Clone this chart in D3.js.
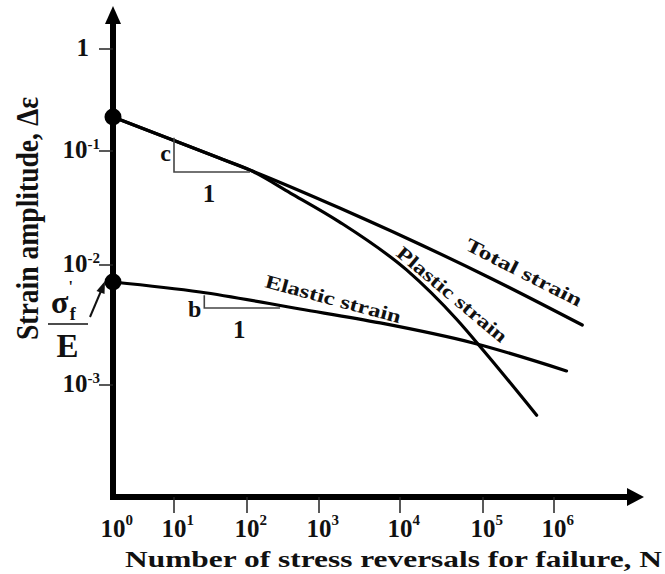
<!DOCTYPE html>
<html><head><meta charset="utf-8">
<script src="https://cdn.jsdelivr.net/npm/d3@7"></script>
<style>html,body{margin:0;padding:0;background:#fff;} svg{display:block;}</style>
</head><body>
<svg id="chart" width="665" height="574"></svg>
<script>
// ---- data ----
const xTickValues = [1, 10, 100, 1e3, 1e4, 1e5, 1e6];
const xTickExps = ["0", "1", "2", "3", "4", "5", "6"];
const yTickValues = [1, 0.1, 0.01, 0.001];
const yTickBases = ["1", "10", "10", "10"];
const yTickExps = ["", "-1", "-2", "-3"];

const totalN = [1, 10, 40, 110, 1800, 1.26e5, 2.5e6];
const totalStrain = [0.215, 0.1265, 0.0875, 0.068, 0.0316, 0.0078, 0.00316];
const plasticN = [1, 10, 40, 110, 400, 1800, 1.2e4, 4.9e4, 1e5, 5.7e5];
const plasticStrain = [0.215, 0.1265, 0.0875, 0.068, 0.0428, 0.0238, 0.0091, 0.00348, 0.00196, 0.00056];
const elasticN = [1, 22.7, 545, 5700, 7.6e4, 1.5e6];
const elasticStrain = [0.00722, 0.00596, 0.0043, 0.00329, 0.00224, 0.00131];

const slopeTriC = {n0: 10, n1: 110, eTop: 0.135, eBot: 0.0655, label: "c"};
const slopeTriB = {n0: 26, n1: 288, eTop: 0.0056, eBot: 0.00438, label: "b"};

const curveLabels = [
  {text: "Total strain", n: 5.9e4, e: 0.0138, angle: 27, len: 128},
  {text: "Plastic strain", n: 8.7e3, e: 0.01225, angle: 40, len: 138},
  {text: "Elastic strain", n: 172, e: 0.00656, angle: 15, len: 140}
];

// ---- scales (log decades, as drawn) ----
const xs = d3.scaleLinear().domain([0,1,2,3,4,5,6]).range([113,174,247,319,400,483,554]);
const ys = d3.scaleLinear().domain([0,-1,-2,-3]).range([49,151,265,385]);
const X = n => xs(Math.log10(n));
const Y = e => ys(Math.log10(e));

const svg = d3.select("#chart");
const FONT = "'Liberation Serif','Times New Roman',serif";

const axisX = 113, axisY = 497;
// axes
svg.append("line").attr("x1", axisX).attr("x2", axisX).attr("y1", axisY + 3).attr("y2", 22)
  .attr("stroke", "#000").attr("stroke-width", 6);
svg.append("path").attr("d", `M${axisX},6 L${axisX-8},24 L${axisX+8},24 Z`).attr("fill", "#000");
svg.append("line").attr("x1", axisX - 3).attr("x2", 629).attr("y1", axisY).attr("y2", axisY)
  .attr("stroke", "#000").attr("stroke-width", 6);
svg.append("path").attr("d", `M644,${axisY} L627,${axisY-9} L627,${axisY+9} Z`).attr("fill", "#000");

// x ticks
xTickValues.forEach((v, i) => {
  const x = X(v);
  if (i > 0) svg.append("line").attr("x1", x).attr("x2", x).attr("y1", axisY).attr("y2", 513)
    .attr("stroke", "#222").attr("stroke-width", 1.5);
  const t = svg.append("text").attr("x", x - 12.5).attr("y", 537)
    .attr("font-family", FONT).attr("font-weight", "bold").attr("font-size", 25).attr("fill", "#111");
  t.append("tspan").text("10");
  t.append("tspan").attr("dy", -12).attr("font-size", 15).text(xTickExps[i]);
});

// y ticks
yTickValues.forEach((v, i) => {
  const y = Y(v);
  svg.append("line").attr("x1", 99).attr("x2", axisX).attr("y1", y).attr("y2", y)
    .attr("stroke", "#222").attr("stroke-width", 1.5);
  const t = svg.append("text").attr("x", yTickExps[i] ? 100 : 89).attr("y", y + 7)
    .attr("text-anchor", "end")
    .attr("font-family", FONT).attr("font-weight", "bold").attr("font-size", 25).attr("fill", "#111");
  t.append("tspan").text(yTickBases[i]);
  if (yTickExps[i]) t.append("tspan").attr("dy", -9).attr("font-size", 15).text(yTickExps[i]);
});

// curves
const line = d3.line().x(d => X(d[0])).y(d => Y(d[1])).curve(d3.curveMonotoneX);
[[totalN, totalStrain], [plasticN, plasticStrain], [elasticN, elasticStrain]].forEach(([ns, es]) => {
  svg.append("path").datum(ns.map((n, i) => [n, es[i]])).attr("d", line)
    .attr("fill", "none").attr("stroke", "#000").attr("stroke-width", 3.2).attr("stroke-linecap", "round");
});

// dots
[totalStrain[0], elasticStrain[0]].forEach(e => {
  svg.append("circle").attr("cx", X(1)).attr("cy", Y(e)).attr("r", 8.5).attr("fill", "#000");
});

// slope triangles
[slopeTriC, slopeTriB].forEach(t => {
  const x0 = X(t.n0), x1 = X(t.n1), yT = Y(t.eTop), yB = Y(t.eBot);
  svg.append("path").attr("d", `M${x0},${yT} L${x0},${yB} L${x1},${yB}`)
    .attr("fill", "none").attr("stroke", "#444").attr("stroke-width", 1.6);
  svg.append("text").attr("x", x0 - 3).attr("y", t.label === "c" ? (yT + yB) / 2 + 6 : yB + 9)
    .attr("text-anchor", "end").attr("font-family", FONT).attr("font-weight", "bold")
    .attr("font-size", 24).attr("fill", "#111").text(t.label);
  svg.append("text").attr("x", (x0 + x1) / 2 - 3).attr("y", yB + 30)
    .attr("text-anchor", "middle").attr("font-family", FONT).attr("font-weight", "bold")
    .attr("font-size", 25).attr("fill", "#111").text("1");
});

// curve labels
curveLabels.forEach(l => {
  svg.append("text").attr("transform", `translate(${X(l.n)},${Y(l.e)}) rotate(${l.angle})`)
    .attr("font-family", FONT).attr("font-weight", "bold").attr("font-size", 19).attr("fill", "#111")
    .attr("textLength", l.len).attr("lengthAdjust", "spacingAndGlyphs").text(l.text);
});

// sigma_f' / E
const frac = svg.append("g").attr("font-family", FONT).attr("font-weight", "bold").attr("fill", "#111");
const sig = frac.append("text").attr("x", 51).attr("y", 313).attr("font-size", 32);
sig.append("tspan").text("σ");
sig.append("tspan").attr("font-size", 16).attr("dy", -21).text("'");
sig.append("tspan").attr("font-size", 18).attr("dx", -3).attr("dy", 28).text("f");
frac.append("line").attr("x1", 48).attr("x2", 88).attr("y1", 324).attr("y2", 324)
  .attr("stroke", "#111").attr("stroke-width", 1.6);
frac.append("text").attr("x", 67.5).attr("y", 357).attr("text-anchor", "middle").attr("font-size", 33).text("E");
svg.append("line").attr("x1", 90).attr("y1", 317).attr("x2", 101).attr("y2", 291)
  .attr("stroke", "#111").attr("stroke-width", 2);
svg.append("path").attr("d", "M105,281 L96.5,291 L104.5,294 Z").attr("fill", "#111");

// axis titles
svg.append("text").attr("x", 125).attr("y", 567)
  .attr("font-family", FONT).attr("font-weight", "bold").attr("font-size", 23).attr("fill", "#111")
  .attr("textLength", 537).attr("lengthAdjust", "spacingAndGlyphs")
  .text("Number of stress reversals for failure, N");
svg.append("text").attr("transform", "translate(38,340) rotate(-90) scale(1,1.35)")
  .attr("font-family", FONT).attr("font-weight", "bold").attr("font-size", 23).attr("fill", "#111")
  .attr("textLength", 243).attr("lengthAdjust", "spacingAndGlyphs")
  .text("Strain amplitude, Δε");
</script>
</body></html>
